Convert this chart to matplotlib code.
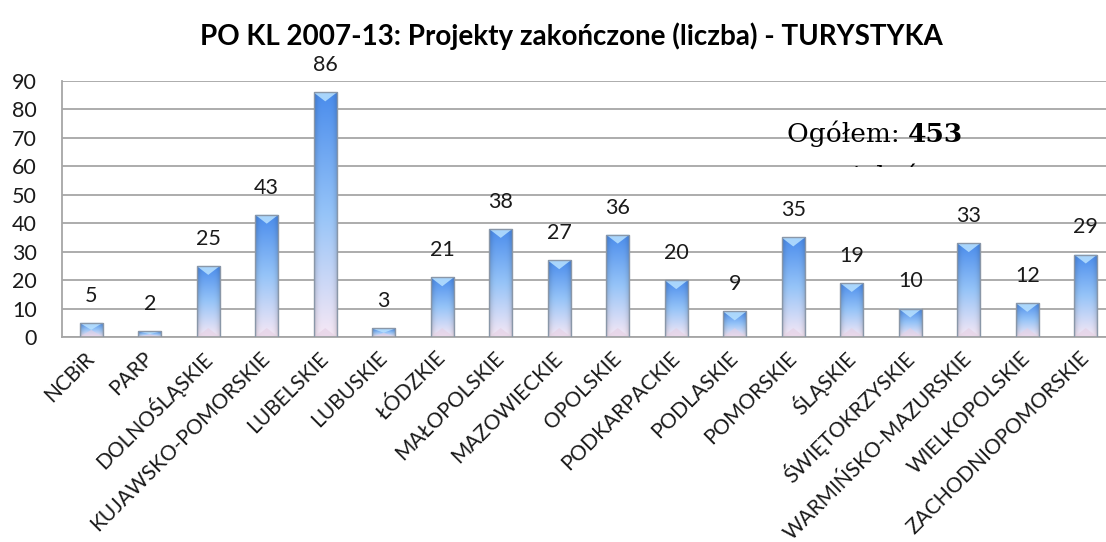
import numpy as np
import matplotlib
matplotlib.use("Agg")
import matplotlib.pyplot as plt
from matplotlib.patches import Polygon, Rectangle
from matplotlib.colors import to_rgb

categories = ["NCBiR", "PARP", "DOLNOŚLĄSKIE", "KUJAWSKO-POMORSKIE", "LUBELSKIE",
              "LUBUSKIE", "ŁÓDZKIE", "MAŁOPOLSKIE", "MAZOWIECKIE", "OPOLSKIE",
              "PODKARPACKIE", "PODLASKIE", "POMORSKIE", "ŚLĄSKIE", "ŚWIĘTOKRZYSKIE",
              "WARMIŃSKO-MAZURSKIE", "WIELKOPOLSKIE", "ZACHODNIOPOMORSKIE"]
values = [5, 2, 25, 43, 86, 3, 21, 38, 27, 36, 20, 9, 35, 19, 10, 33, 12, 29]
yticks = [0, 10, 20, 30, 40, 50, 60, 70, 80, 90]
title = "PO KL 2007-13: Projekty zakończone (liczba) - TURYSTYKA"
total_label = "Ogółem: "
total_value = "453"
total_suffix = "projektów"

W, H = 1106, 542
fig = plt.figure(figsize=(W / 100, H / 100), dpi=100)
fig.patch.set_facecolor("white")

left_px, right_px, top_px, bottom_px = 62, 62 + 18 * 58.5, 81, 337
ax = fig.add_axes([left_px / W, 1 - bottom_px / H,
                   (right_px - left_px) / W, (bottom_px - top_px) / H])
ax.set_xlim(-0.5, len(categories) - 0.5)
ax.set_ylim(0, 90)
ax.set_facecolor("none")

sans = "Lato"
ax.set_yticks(yticks)
ax.set_yticklabels([str(t) for t in yticks], fontsize=15.5, family=sans, color="#1a1a1a")
ax.yaxis.grid(True, color="#a6a6a6", linewidth=1.3)
ax.set_axisbelow(True)
ax.tick_params(axis="y", length=0, pad=18)
ax.tick_params(axis="x", length=0, pad=13)
for s in ["top", "right"]:
    ax.spines[s].set_visible(False)
for s in ["left", "bottom"]:
    ax.spines[s].set_color("#a6a6a6")
    ax.spines[s].set_linewidth(1.3)

x = np.arange(len(categories))
ax.set_xticks(x)
ax.set_xticklabels(categories, rotation=45, ha="right", va="center",
                   rotation_mode="anchor", fontsize=15, family=sans, color="#1a1a1a")

bars = ax.bar(x, values, width=0.4, facecolor="none", edgecolor="#8a97a8",
              linewidth=1.0, zorder=3)

# gradient image: vertical blue -> pink, darker at sides
top_c = np.array(to_rgb("#4a8cec"))
mid_c = np.array(to_rgb("#96c4f8"))
bot_c = np.array(to_rgb("#f7e8f5"))
ny, nx = 200, 40
t = np.linspace(0, 1, ny)[:, None]  # 0 top -> 1 bottom
col = np.where(t < 0.5,
               top_c + (mid_c - top_c) * (t / 0.5),
               mid_c + (bot_c - mid_c) * ((t - 0.5) / 0.5))
col = col[:, None, :] * np.ones((1, nx, 1))
xs = np.linspace(-1, 1, nx)
shade = 1 - 0.2 * np.abs(xs) ** 4
col = col * shade[None, :, None]

px_per_unit = (bottom_px - top_px) / 90.0
for b, v in zip(bars, values):
    bx, bw, bh = b.get_x(), b.get_width(), b.get_height()
    im = ax.imshow(col, extent=[bx, bx + bw, 0, bh], aspect="auto",
                   interpolation="bilinear", zorder=2)
    im.set_clip_path(b)
    d = min(9 / px_per_unit, bh * 0.5)
    tri = Polygon([[bx, bh], [bx + bw, bh], [bx + bw / 2, bh - d]], closed=True,
                  facecolor="#b9e2ff", edgecolor="none", alpha=0.85, zorder=2.5)
    ax.add_patch(tri)
    d2 = min(9 / px_per_unit, bh * 0.5)
    tri2 = Polygon([[bx, 0], [bx + bw, 0], [bx + bw / 2, d2]], closed=True,
                   facecolor="#e3cfe3", edgecolor="none", alpha=0.6, zorder=2.5)
    ax.add_patch(tri2)
    ax.annotate(str(v), (b.get_x() + bw / 2, bh), xytext=(0, 19.5),
                textcoords="offset points", ha="center", va="center",
                fontsize=15.5, family=sans, color="#1a1a1a", zorder=5)

fig.text(571 / W, 1 - 36 / H, title, ha="center", va="center",
         fontsize=20, fontweight="bold", family=sans, color="black")

# total annotation (serif)
serif = "DejaVu Serif"
t1 = fig.text(787 / W, 1 - 134 / H, total_label, ha="left", va="center",
              fontsize=19, family=serif, color="black")
fig.canvas.draw()
bb = t1.get_window_extent()
fig.text(bb.x1 / W, 1 - 134 / H, total_value, ha="left", va="center",
         fontsize=19, fontweight="bold", family=serif, color="black")
t3 = fig.text(875 / W, 1 - 177 / H, total_suffix, ha="center", va="center",
              fontsize=19, family=serif, color="black")
clip = Rectangle((700, H - 167), 350, 20, transform=None)
t3.set_clip_path(clip)

fig.savefig("out.png", dpi=100, facecolor="white")
